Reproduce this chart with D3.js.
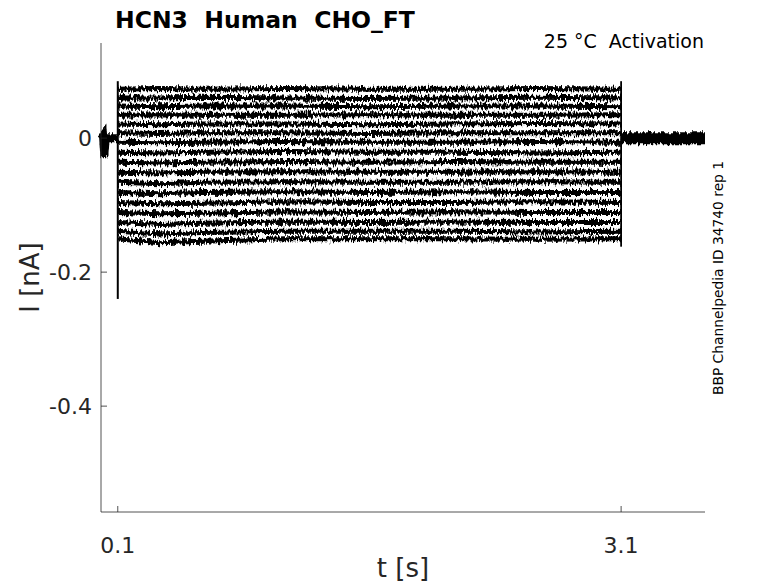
<!DOCTYPE html>
<html><head><meta charset="utf-8">
<script src="https://cdn.jsdelivr.net/npm/d3@7"></script>
<style>body{margin:0;background:#fff} svg{display:block} text{white-space:pre}</style>
</head><body><svg id="c" width="778" height="583"></svg>
<script>
// ---------- data ----------
const title = "HCN3  Human  CHO_FT";
const subtitle = "25 °C  Activation";
const sideNote = "BBP Channelpedia ID 34740 rep 1";
const xLabel = "t [s]";
const yLabel = "I [nA]";
const xTicks = [0.1, 3.1];
const yTicks = [0, -0.2, -0.4];
const xDomain = [0, 3.6];
const yDomain = [-0.558, 0.142];
const stepStart = 0.1, stepEnd = 3.1;
const sampleTimes = [0.101, 0.35, 0.6, 1.1, 1.6, 2.1, 2.6, 3.1];
const traceLevels = [
  [0.073, 0.074, 0.073, 0.074, 0.073, 0.073, 0.074, 0.073],
  [0.060, 0.060, 0.061, 0.060, 0.059, 0.060, 0.061, 0.060],
  [0.048, 0.047, 0.048, 0.048, 0.047, 0.048, 0.048, 0.047],
  [0.034, 0.035, 0.034, 0.034, 0.035, 0.034, 0.034, 0.035],
  [0.021, 0.020, 0.021, 0.021, 0.020, 0.021, 0.022, 0.021],
  [0.008, 0.007, 0.008, 0.008, 0.007, 0.008, 0.008, 0.008],
  [-0.006, -0.007, -0.006, -0.005, -0.006, -0.006, -0.005, -0.006],
  [-0.021, -0.022, -0.021, -0.020, -0.021, -0.021, -0.022, -0.021],
  [-0.036, -0.037, -0.036, -0.035, -0.036, -0.035, -0.036, -0.036],
  [-0.051, -0.052, -0.051, -0.050, -0.051, -0.051, -0.050, -0.051],
  [-0.066, -0.068, -0.066, -0.065, -0.066, -0.066, -0.065, -0.066],
  [-0.081, -0.083, -0.081, -0.080, -0.081, -0.080, -0.081, -0.081],
  [-0.096, -0.098, -0.097, -0.095, -0.096, -0.096, -0.095, -0.096],
  [-0.111, -0.113, -0.112, -0.110, -0.111, -0.110, -0.111, -0.111],
  [-0.126, -0.129, -0.127, -0.125, -0.126, -0.125, -0.126, -0.126],
  [-0.139, -0.143, -0.141, -0.139, -0.139, -0.139, -0.140, -0.139],
  [-0.150, -0.156, -0.154, -0.150, -0.150, -0.150, -0.151, -0.150]
];
const onsetPeaks = [0.085, 0.07, 0.055, 0.04, 0.025, 0.01, -0.01, -0.025, -0.04, -0.055, -0.07,
                    -0.085, -0.1, -0.115, -0.13, -0.16, -0.24];
const preT = [0, 0.012, 0.016, 0.02, 0.026, 0.032, 0.1];
const preI = [0, 0.004, -0.012, -0.028, -0.006, 0, 0];
const postT = [3.1, 3.6];
const postI = [0, 0];

// ---------- layout ----------
const svg = d3.select("#c");
const M = {l: 101, r: 705, t: 43, b: 512};
const x = d3.scaleLinear().domain(xDomain).range([M.l, M.r]);
const y = d3.scaleLinear().domain(yDomain).range([M.b, M.t]);
const FONT = "'DejaVu Sans', sans-serif";
const AX = "#262626";

// noise filters (visual style only)
const defs = svg.append("defs");
function noiseFilter(id, freq, seed, scale) {
  const f = defs.append("filter").attr("id", id)
    .attr("filterUnits", "userSpaceOnUse")
    .attr("x", 0).attr("y", 0).attr("width", 778).attr("height", 583)
    .attr("color-interpolation-filters", "sRGB");
  f.append("feTurbulence").attr("type", "fractalNoise").attr("baseFrequency", freq)
    .attr("numOctaves", 2).attr("seed", seed).attr("result", "n");
  f.append("feColorMatrix").attr("in", "n").attr("type", "matrix")
    .attr("values", "0 0 0 0 0.5  0 1 0 0 0  0 0 1 0 0  0 0 0 0 1").attr("result", "m");
  f.append("feDisplacementMap").attr("in", "SourceGraphic").attr("in2", "m")
    .attr("scale", scale).attr("xChannelSelector", "R").attr("yChannelSelector", "G");
}
noiseFilter("nStep", "0.6 0.14", 3, 9);
noiseFilter("nBase", "0.5 0.04", 5, 8);

const line = d3.line().x(d => x(d[0])).y(d => y(d[1]));

// step segments (horizontal parts of every sweep)
const gStep = svg.append("g").attr("filter", "url(#nStep)");
traceLevels.forEach((lv) => {
  const pts = sampleTimes.map((t, j) => [t, lv[j]]);
  gStep.append("path").attr("d", line(pts))
    .attr("fill", "none").attr("stroke", "#000").attr("stroke-width", 5);
});
// holding baseline before the step
gStep.append("path").attr("d", line(preT.map((t, i) => [t, preI[i]])))
  .attr("fill", "none").attr("stroke", "#000").attr("stroke-width", 8);
// holding baseline after the step
const gBase = svg.append("g").attr("filter", "url(#nBase)");
gBase.append("path").attr("d", line(postT.map((t, i) => [t, postI[i]])))
  .attr("fill", "none").attr("stroke", "#000").attr("stroke-width", 12);
// step edges (onset transients and offset)
svg.append("path").attr("d", line([[stepStart, d3.max(onsetPeaks)], [stepStart, d3.min(onsetPeaks)]]))
  .attr("stroke", "#000").attr("stroke-width", 2).attr("fill", "none");
svg.append("path").attr("d", line([[stepEnd, d3.max(traceLevels, r => r[r.length - 1]) + 0.012],
                                    [stepEnd, d3.min(traceLevels, r => r[r.length - 1]) - 0.012]]))
  .attr("stroke", "#000").attr("stroke-width", 1.8).attr("fill", "none");

// ---------- axes ----------
const ga = svg.append("g");
ga.append("line").attr("x1", M.l).attr("x2", M.l).attr("y1", M.t).attr("y2", M.b)
  .attr("stroke", AX).attr("stroke-width", 0.8);
ga.append("line").attr("x1", M.l).attr("x2", M.r).attr("y1", M.b).attr("y2", M.b)
  .attr("stroke", AX).attr("stroke-width", 0.8);
yTicks.forEach(v => {
  ga.append("line").attr("x1", M.l).attr("x2", M.l + 6).attr("y1", y(v)).attr("y2", y(v))
    .attr("stroke", AX).attr("stroke-width", 0.8);
  ga.append("text").attr("x", M.l - 9).attr("y", y(v)).attr("dy", "0.36em")
    .attr("text-anchor", "end").attr("font-family", FONT).attr("font-size", 22)
    .attr("fill", AX).text(v === 0 ? "0" : d3.format(".1f")(v).replace("−", "-"));
});
xTicks.forEach(v => {
  ga.append("line").attr("x1", x(v)).attr("x2", x(v)).attr("y1", M.b).attr("y2", M.b - 6)
    .attr("stroke", AX).attr("stroke-width", 0.8);
  ga.append("text").attr("x", x(v)).attr("y", 553)
    .attr("text-anchor", "middle").attr("font-family", FONT).attr("font-size", 22)
    .attr("fill", AX).text(String(v));
});
ga.append("text").attr("x", (M.l + M.r) / 2).attr("y", 577).attr("text-anchor", "middle")
  .attr("font-family", FONT).attr("font-size", 26).attr("fill", AX).text(xLabel);
ga.append("text").attr("transform", `translate(39,${(M.t + M.b) / 2}) rotate(-90)`)
  .attr("text-anchor", "middle").attr("font-family", FONT).attr("font-size", 26)
  .attr("fill", AX).text(yLabel);

svg.append("text").attr("x", 115).attr("y", 28).attr("font-family", FONT)
  .attr("font-weight", "bold").attr("font-size", 23.5).attr("fill", "#000").text(title);
svg.append("text").attr("x", 704).attr("y", 48).attr("text-anchor", "end")
  .attr("font-family", FONT).attr("font-size", 19).attr("fill", "#000").text(subtitle);
svg.append("text").attr("transform", "translate(723,278) rotate(-90)")
  .attr("text-anchor", "middle").attr("font-family", FONT).attr("font-size", 13.8)
  .attr("fill", "#000").text(sideNote);
</script></body></html>
